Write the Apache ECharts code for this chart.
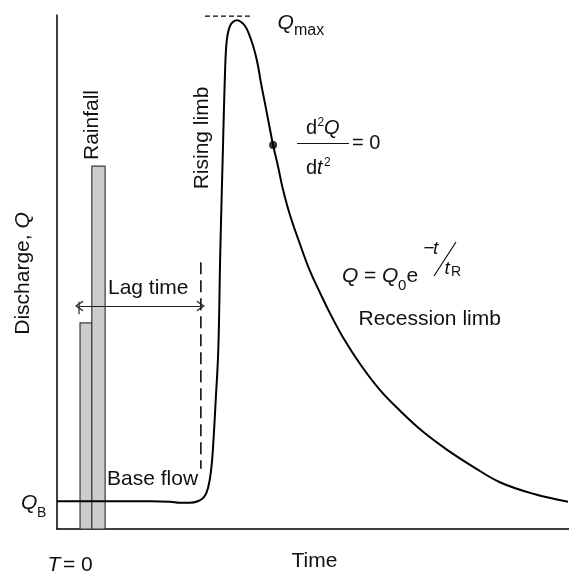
<!DOCTYPE html>
<html>
<head>
<meta charset="utf-8">
<script src="https://cdn.jsdelivr.net/npm/echarts@6/dist/echarts.min.js"></script>
<style>
  html, body { margin: 0; padding: 0; background: #fff; }
  #chart { width: 569px; height: 572px; }
</style>
</head>
<body>
<div id="chart"></div>
<script>
// Storm hydrograph, both axes in arbitrary units (0-100)
const hydroTime = [0, 18.2, 22.1, 24.0, 26.0, 27.5, 28.7, 29.5, 30.1, 30.5,
  31.0, 31.5, 31.9, 32.4, 32.6, 32.8, 33.0, 33.3, 33.8, 34.4,
  35.2, 35.9, 36.7, 37.5, 38.3, 39.1, 39.8, 40.6, 41.4, 42.2,
  43.2, 44.1, 45.5, 47.5, 49.4, 51.4, 53.3, 55.9, 59.2, 63.1,
  67.0, 71.5, 76.2, 81.3, 86.5, 93.2, 99.8];
const hydroFlow = [5.4, 5.4, 5.3, 5.1, 5.1, 5.4, 6.2, 8.0, 11.5, 16.3,
  25.1, 34.8, 54.3, 73.7, 81.5, 88.3, 93.2, 96.1, 97.9, 98.7,
  99.0, 98.7, 97.9, 96.3, 94.0, 90.9, 87.0, 82.9, 78.8, 74.7,
  70.4, 66.2, 61.1, 55.3, 50.2, 45.9, 42.0, 37.2, 32.1, 27.0,
  23.0, 18.9, 15.4, 12.1, 9.1, 6.8, 5.3];

// rainfall bars: [start, end] in time, depth in same units as flow axis
const rainStart = [4.5, 6.8];
const rainEnd = [6.8, 9.4];
const rainDepth = [40.1, 70.6];

const inflection = [42.2, 74.7];

const peakMarkTime = [28.9, 38.3];
const peakMarkFlow = 99.8;

const lagTime = [4.3, 28.1];
const lagFlow = 43.4;
const lagTickFlow = [41.8, 44.2];
const lagDashFlow = [11.7, 51.9];

const FONT = '"Liberation Sans", Arial, Helvetica, sans-serif';
const INK = '#111';
// open chevron, pointing up (markLine rotates it along the line)
const ARROW_HEAD = 'path://M0,10 L5,0 L10,10 L8.6,10 L5,2.8 L1.4,10 Z';

function txt(text, x, y, size, extra) {
  return {
    type: 'text',
    x: x,
    y: y,
    rotation: (extra && extra.rotation) || 0,
    silent: true,
    style: {
      text: text,
      fontFamily: FONT,
      fontSize: size,
      fontStyle: (extra && extra.italic) ? 'italic' : 'normal',
      fill: INK,
      align: (extra && extra.align) || 'left',
      verticalAlign: 'middle',
      rich: extra && extra.rich
    }
  };
}

function rule(x1, y1, x2, y2) {
  return { type: 'line', silent: true, shape: { x1, y1, x2, y2 }, style: { stroke: INK, lineWidth: 1.2 } };
}

const chart = echarts.init(document.getElementById('chart'));

const option = {
  animation: false,
  backgroundColor: '#fff',
  grid: { left: 57, right: 0, top: 15, bottom: 43 },
  xAxis: {
    type: 'value', min: 0, max: 100,
    axisLine: { show: true, lineStyle: { color: '#000', width: 1.5 } },
    axisTick: { show: false }, axisLabel: { show: false }, splitLine: { show: false }
  },
  yAxis: {
    type: 'value', min: 0, max: 100,
    axisLine: { show: true, lineStyle: { color: '#000', width: 1.5 } },
    axisTick: { show: false }, axisLabel: { show: false }, splitLine: { show: false }
  },
  series: [
    {
      name: 'Rainfall',
      type: 'custom',
      z: 1,
      data: rainStart.map((s, i) => [s, rainEnd[i], rainDepth[i]]),
      renderItem: (params, api) => {
        const topLeft = api.coord([api.value(0), api.value(2)]);
        const bottomRight = api.coord([api.value(1), 0]);
        return {
          type: 'rect',
          shape: {
            x: topLeft[0], y: topLeft[1],
            width: bottomRight[0] - topLeft[0], height: bottomRight[1] - topLeft[1]
          },
          style: { fill: '#cccccc', stroke: '#3a3a3a', lineWidth: 1.2 }
        };
      }
    },
    {
      name: 'Discharge',
      type: 'line',
      z: 3,
      smooth: 0.4,
      symbol: 'none',
      lineStyle: { color: '#000', width: 2 },
      data: hydroTime.map((t, i) => [t, hydroFlow[i]])
    },
    {
      name: 'Inflection',
      type: 'scatter',
      z: 4,
      symbolSize: 8,
      itemStyle: { color: '#000' },
      data: [inflection]
    },
    {
      name: 'Qmax marker',
      type: 'line',
      z: 3,
      symbol: 'none',
      lineStyle: { color: '#000', width: 1.3, type: [5, 3] },
      data: peakMarkTime.map((t) => [t, peakMarkFlow])
    },
    {
      name: 'Lag marker',
      type: 'line',
      z: 3,
      symbol: 'none',
      lineStyle: { color: '#000', width: 1.5, type: [12, 6] },
      data: lagDashFlow.slice().reverse().map((q) => [lagTime[1], q])
    },
    {
      name: 'Lag tick',
      type: 'line',
      z: 3,
      symbol: 'none',
      lineStyle: { color: '#222', width: 1.2 },
      data: lagTickFlow.map((q) => [lagTime[0], q])
    },
    {
      name: 'Lag arrow',
      type: 'line',
      z: 3,
      data: [],
      markLine: {
        silent: true,
        symbol: [ARROW_HEAD, ARROW_HEAD],
        symbolSize: [11, 8],
        label: { show: false },
        lineStyle: { color: '#222', width: 1.2, type: 'solid' },
        data: [[{ coord: [lagTime[0], lagFlow] }, { coord: [lagTime[1], lagFlow] }]]
      }
    }
  ],
  graphic: [
    txt('{a|Discharge, }{b|Q}', 23.5, 273.5, 21, {
      rotation: Math.PI / 2, align: 'center',
      rich: {
        a: { fontFamily: FONT, fontSize: 21, fill: INK },
        b: { fontFamily: FONT, fontSize: 21, fontStyle: 'italic', fill: INK }
      }
    }),
    txt('Rainfall', 92.5, 125, 21, { rotation: Math.PI / 2, align: 'center' }),
    txt('Rising limb', 202.5, 138, 21, { rotation: Math.PI / 2, align: 'center' }),
    txt('Lag time', 108, 288.7, 21),
    txt('Base flow', 107, 479.7, 21),
    txt('Q', 21, 503.2, 21, { italic: true }),
    txt('B', 37, 513.4, 14),
    txt('T', 47.5, 565.5, 21, { italic: true }),
    txt('= 0', 63, 565.5, 21),
    txt('Time', 291.5, 561.7, 21),
    txt('Q', 277.5, 22.7, 21, { italic: true }),
    txt('max', 294, 30.9, 16),
    // d2Q / dt2 = 0
    txt('d', 306, 128, 20),
    txt('2', 317.5, 122.8, 12),
    txt('Q', 324, 128, 20, { italic: true }),
    rule(297, 143.5, 349, 143.5),
    txt('= 0', 352, 143.5, 20),
    txt('d', 306, 168, 20),
    txt('t', 317, 168, 20, { italic: true }),
    txt('2', 324, 162.8, 12),
    // Q = Q0 e^(-t/tR)
    txt('Q', 342, 276.2, 21, { italic: true }),
    txt('=', 364, 276.2, 21),
    txt('Q', 382, 276.2, 21, { italic: true }),
    txt('0', 398, 285.8, 15),
    txt('e', 406.5, 276.2, 21),
    txt('\u2212', 423.5, 248.4, 19),
    txt('t', 433, 248.4, 19, { italic: true }),
    rule(434, 276, 456, 242),
    txt('t', 444.5, 268.4, 19, { italic: true }),
    txt('R', 451, 272.6, 14),
    txt('Recession limb', 358.5, 319.7, 21)
  ]
};

chart.setOption(option);
</script>
</body>
</html>
